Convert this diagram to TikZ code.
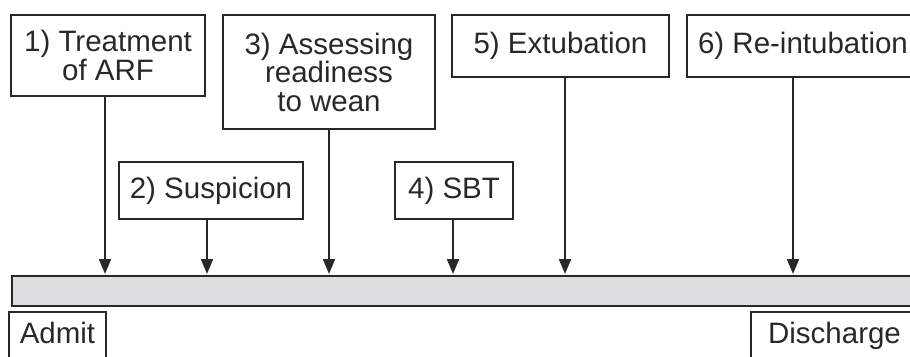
\documentclass[tikz,border=0pt]{standalone}
\usepackage{fontspec}
\setmainfont{Liberation Sans}
\usetikzlibrary{arrows.meta}

\definecolor{inkgray}{RGB}{40,40,40}
\definecolor{barfill}{RGB}{220,221,223}

\tikzset{
  stagebox/.style={draw=inkgray, line width=2pt, text=inkgray, inner sep=0pt,
    align=center, font=\fontsize{29.5}{28.5}\selectfont},
  endbox/.style={stagebox, anchor=base, text height=21.5pt, text depth=40pt, inner ysep=10pt},
  timebar/.style={draw=inkgray, line width=2pt, fill=barfill, anchor=north west, inner sep=0pt},
  pointer/.style={draw=inkgray, line width=2pt, -{Triangle[length=15pt,width=12pt]}, shorten >=1pt}
}

\begin{document}
\begin{tikzpicture}[x=1pt, y=-1pt]
  \useasboundingbox (0,0) rectangle (910,356);

  % stages above the time line
  \node[stagebox, minimum width=194pt, minimum height=81pt] (s1) at (108,55.5) {1) Treatment\\of ARF};
  \node[stagebox, minimum width=184pt, minimum height=57pt] (s2) at (211,190.5) {2) Suspicion};
  \node[stagebox, minimum width=212pt, minimum height=114pt] (s3) at (329,72) {3) Assessing\\readiness\\to wean};
  \node[stagebox, minimum width=118pt, minimum height=57pt] (s4) at (454,190.5) {4) SBT};
  \node[stagebox, minimum width=217pt, minimum height=62pt] (s5) at (560.5,46) {5) Extubation};
  \node[stagebox, minimum width=232pt, minimum height=62pt] (s6) at (803,46) {6) Re-intubation};

  \node[timebar, minimum width=920pt, minimum height=30pt] (bar) at (11,275) {};

  \node[endbox, minimum width=97pt] (admit) at (57.5,343) {Admit};
  \node[endbox, minimum width=167pt] (discharge) at (834.5,343) {Discharge};

  \foreach \n/\dx in {s1/-3, s2/-4, s3/0, s4/-1, s5/4.5, s6/-10} {
    \coordinate (top) at ([xshift=\dx pt]\n.south);
    \draw[pointer] (top) -- (top |- bar.north);
  }
\end{tikzpicture}
\end{document}
